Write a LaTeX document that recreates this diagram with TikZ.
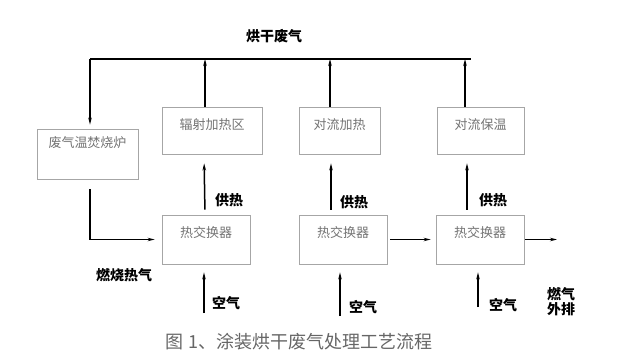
\documentclass[tikz,border=0pt]{standalone}
\usepackage{fontspec}
\setmainfont{Noto Sans CJK SC}
\usetikzlibrary{arrows.meta}
\begin{document}
\begin{tikzpicture}[x=1pt, y=-1pt,
  box/.style={draw=black!35, line width=0.8pt, inner sep=4pt, text=black!55, font=\fontsize{13}{15}\selectfont},
  lbl/.style={font=\fontsize{14}{16}\selectfont\bfseries},
  ln/.style={line width=1.5pt},
  arr/.style={line width=1.5pt, -{Stealth[length=7pt,width=3.5pt]}}]
  \useasboundingbox (0,0) rectangle (640,358);
  \node[lbl] (t) at (274,36) {烘干废气};
  \node[box, minimum width=101pt, minimum height=50pt, text height=15pt, text depth=27pt] (f) at (87.5,154) {废气温焚烧炉};
  \node[box, minimum width=100pt, minimum height=47pt, text height=19pt, text depth=20pt] (z1) at (212,130.5) {辐射加热区};
  \node[box, minimum width=81pt, minimum height=47pt, text height=19pt, text depth=20pt] (z2) at (339.5,130.5) {对流加热};
  \node[box, minimum width=87pt, minimum height=47pt, text height=19pt, text depth=20pt] (z3) at (480.5,130.5) {对流保温};
  \node[box, minimum width=88pt, minimum height=49pt, text height=18pt, text depth=23pt] (h1) at (206,239.5) {热交换器};
  \node[box, minimum width=88pt, minimum height=49pt, text height=18pt, text depth=23pt] (h2) at (343,239.5) {热交换器};
  \node[box, minimum width=88pt, minimum height=49pt, text height=18pt, text depth=23pt] (h3) at (480,239.5) {热交换器};
  \coordinate (busL) at (90,59);
  \coordinate (busR) at (471,59);
  \coordinate (a1) at (204,313);
  \coordinate (a2) at (340,316);
  \coordinate (a3) at (478,307);
  \coordinate (out) at (557,239.5);
  \draw[ln] (busL) -- (busR);
  \draw[arr, shorten >=4pt] (busL) -- ([xshift=2.5pt]f.north);
  \draw[arr] ([xshift=-7pt]z1.north) -- ([xshift=-7pt]z1.north |- busL);
  \draw[arr] ([xshift=-9.5pt]z2.north) -- ([xshift=-9.5pt]z2.north |- busL);
  \draw[arr] ([xshift=-15.5pt]z3.north) -- ([xshift=-15.5pt]z3.north |- busL);
  \draw[arr, shorten <=5pt, shorten >=9pt] ([xshift=-1pt]h1.north) -- ([xshift=-8pt]z1.south);
  \draw[arr, shorten <=5pt, shorten >=9pt] ([xshift=-12pt]h2.north) -- ([xshift=-8.5pt]z2.south);
  \draw[arr, shorten <=5pt, shorten >=9pt] ([xshift=-13pt]h3.north) -- ([xshift=-13.5pt]z3.south);
  \draw[arr, shorten <=10pt, shorten >=7pt] ([xshift=2.5pt]f.south) |- (h1.west);
  \draw[arr, shorten >=8pt] (a1) -- (a1 |- h1.south);
  \draw[arr, shorten >=8pt] (a2) -- (a2 |- h2.south);
  \draw[arr, shorten >=8pt] (a3) -- (a3 |- h3.south);
  \draw[arr, shorten <=3pt, shorten >=5pt] (h2.east) -- (h3.west);
  \draw[arr, shorten <=1pt] (h3.east) -- (out);
  \node[lbl] (g1) at (229,200) {供热};
  \node[lbl] (g2) at (354,202) {供热};
  \node[lbl] (g3) at (493,200) {供热};
  \node[lbl] (k1) at (226,303) {空气};
  \node[lbl] (k2) at (363,307) {空气};
  \node[lbl] (k3) at (503,305) {空气};
  \node[lbl] (rq) at (124,275) {燃烧热气};
  \node[lbl, align=center, font=\fontsize{14}{15}\selectfont\bfseries] (wp) at (561,302) {燃气\\外排};
  \node[text=black!60, font=\fontsize{18}{20}\selectfont] (cap) at (299,342) {图 1、涂装烘干废气处理工艺流程};
\end{tikzpicture}
\end{document}
